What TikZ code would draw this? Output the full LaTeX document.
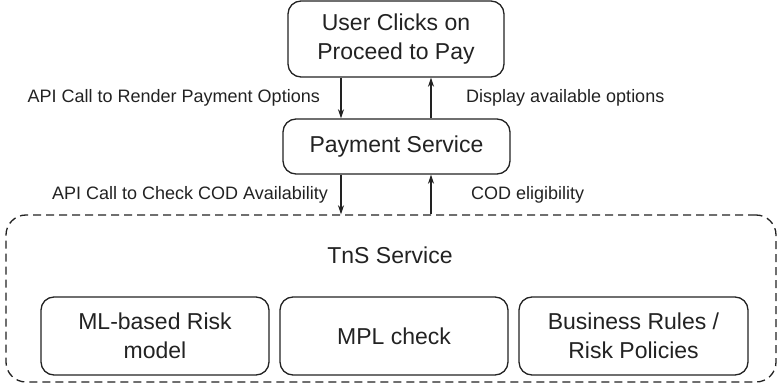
\documentclass[tikz,border=0pt]{standalone}
\usepackage{fontspec}
\setmainfont{Liberation Sans}
\usetikzlibrary{arrows.meta}
\definecolor{ink}{HTML}{222222}
\begin{document}
\begin{tikzpicture}[x=1pt,y=-1pt,
  box/.style={draw=ink, line width=1.3pt, rounded corners=13pt, inner sep=0pt,
    align=center, text=ink, font=\fontsize{23}{29}\selectfont},
  lbl/.style={inner sep=0pt, text=ink, font=\fontsize{18}{22}\selectfont},
  arr/.style={draw=ink, line width=1.3pt, -{Stealth[length=9pt,width=6pt,inset=2.5pt]}}]
\useasboundingbox (0,0) rectangle (778,387);
\node[box, minimum width=216pt, minimum height=76pt] (usr) at (396,39) {User Clicks on\\Proceed to Pay};
\node[box, minimum width=227pt, minimum height=55pt] (pay) at (396.5,146.5) {Payment Service};
\node[draw=ink, line width=1.3pt, dash pattern=on 8pt off 5pt, rounded corners=20pt,
  minimum width=770pt, minimum height=167pt, inner sep=0pt] (tns) at (391,298.5) {};
\node[lbl, font=\fontsize{23}{29}\selectfont] (tnst) at (390,255) {TnS Service};
\node[box, minimum width=228pt, minimum height=78pt] (ml) at (155,336) {ML-based Risk\\model};
\node[box, minimum width=228pt, minimum height=78pt] (mpl) at (394,336) {MPL check};
\node[box, minimum width=229pt, minimum height=78pt] (br) at (633.5,336) {Business Rules /\\Risk Policies};
\coordinate (a1) at (341,0);
\coordinate (a2) at (431,0);
\draw[arr] (usr.south -| a1) -- (pay.north -| a1);
\draw[arr] (pay.north -| a2) -- (usr.south -| a2);
\draw[arr] (pay.south -| a1) -- (tns.north -| a1);
\draw[arr] (tns.north -| a2) -- (pay.south -| a2);
\node[lbl, anchor=east] (l1) at (320,98) {API Call to Render Payment Options};
\node[lbl, anchor=west] (l2) at (466,98) {Display available options};
\node[lbl, anchor=east] (l3) at (328,195) {API Call to Check COD Availability};
\node[lbl, anchor=west] (l4) at (471,195) {COD eligibility};
\end{tikzpicture}
\end{document}
